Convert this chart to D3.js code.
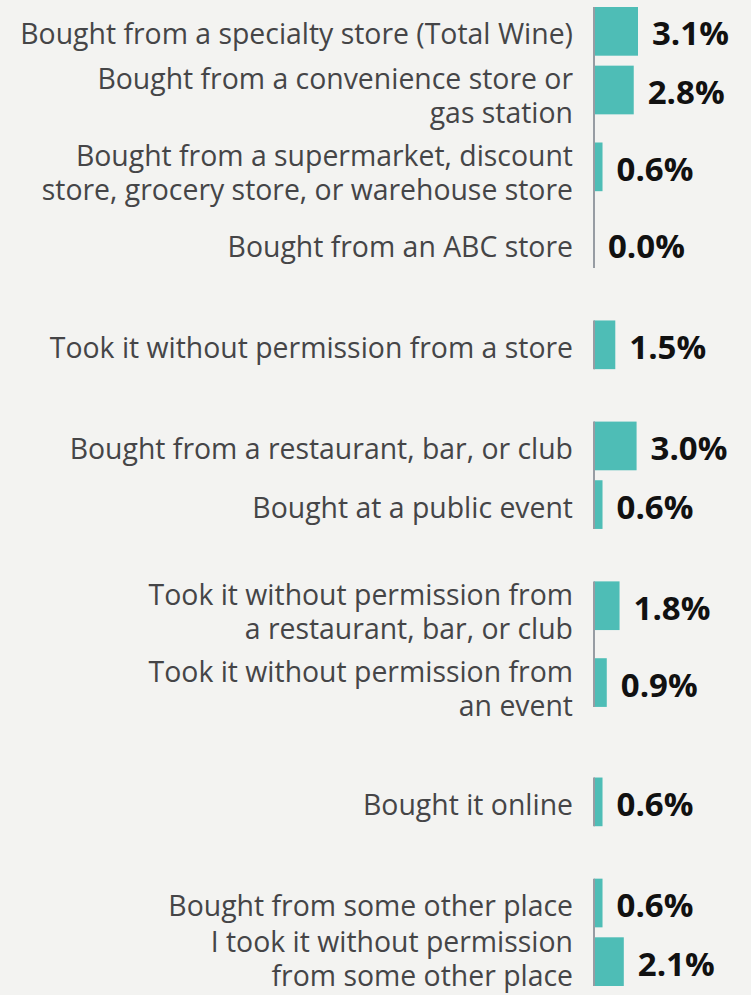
<!DOCTYPE html>
<html><head><meta charset="utf-8">
<script src="https://cdn.jsdelivr.net/npm/d3@7"></script>
<style>html,body{margin:0;padding:0;background:#f3f3f1;} svg{display:block}</style>
</head><body>
<svg id="chart" width="751" height="995"></svg>
<script>
const categories = [
  "Bought from a specialty store (Total Wine)",
  "Bought from a convenience store or\ngas station",
  "Bought from a supermarket, discount\nstore, grocery store, or warehouse store",
  "Bought from an ABC store",
  "Took it without permission from a store",
  "Bought from a restaurant, bar, or club",
  "Bought at a public event",
  "Took it without permission from\na restaurant, bar, or club",
  "Took it without permission from\nan event",
  "Bought it online",
  "Bought from some other place",
  "I took it without permission\nfrom some other place"
];
const groups = [0, 0, 0, 0, 1, 2, 2, 3, 3, 4, 5, 5];
const values = [3.1, 2.8, 0.6, 0.0, 1.5, 3.0, 0.6, 1.8, 0.9, 0.6, 0.6, 2.1];

const svg = d3.select("#chart");
const W = 751, H = 995;
svg.append("rect").attr("width", W).attr("height", H).attr("fill", "#f3f3f1");

// layout units: one-line row pitch = 1, two-line row pitch larger, gap between groups
const LINE2 = 1.31, GAP = 0.724, BAR = 0.83;
const rows = [];
let acc = 0;
categories.forEach((c, i) => {
  if (i > 0 && groups[i] !== groups[i - 1]) acc += GAP;
  const lines = c.split("\n");
  rows.push({ label: lines, value: values[i], group: groups[i], u: acc });
  acc += lines.length > 1 ? LINE2 : 1;
});
const last = rows[rows.length - 1];
const y = d3.scaleLinear().domain([0, last.u + BAR]).range([7, 986]);
const x = d3.scaleLinear().domain([0, 3.1]).range([594, 638]);
const barH = y(BAR) - y(0);

// bars
svg.append("g").selectAll("rect").data(rows).join("rect")
  .attr("x", x(0))
  .attr("y", d => y(d.u))
  .attr("width", d => x(d.value) - x(0))
  .attr("height", barH)
  .attr("fill", "#4ebdb6");

// axis line segments per group
const grp = d3.groups(rows, d => d.group);
svg.append("g").selectAll("line").data(grp).join("line")
  .attr("x1", x(0)).attr("x2", x(0))
  .attr("y1", d => y(d3.min(d[1], r => r.u)))
  .attr("y2", d => y(d3.max(d[1], r => r.u) + BAR))
  .attr("stroke", "#979ca3").attr("stroke-width", 2);

// category labels
const LH = 34;
const lab = svg.append("g")
  .attr("font-family", "'Open Sans', 'Noto Sans', sans-serif")
  .attr("font-size", 28.4).attr("fill", "#454547").attr("text-anchor", "end");
rows.forEach(d => {
  const cy = y(d.u + BAR / 2);
  const n = d.label.length;
  const off = n > 1 ? 16 : 13;
  const base = Math.min(cy + off - (n - 1) * LH / 2, 986 - (n - 1) * LH);
  const t = lab.append("text").attr("x", 573);
  d.label.forEach((line, k) => {
    t.append("tspan").attr("x", 573)
      .attr("y", base + k * LH)
      .text(line);
  });
});

// value labels
svg.append("g")
  .attr("font-family", "'Open Sans', 'Noto Sans', sans-serif")
  .attr("font-size", 33).attr("font-weight", "bold").attr("fill", "#111")
  .selectAll("text").data(rows).join("text")
  .attr("x", d => x(d.value) + 14)
  .attr("y", d => y(d.u + BAR / 2) + 14)
  .text(d => d.value.toFixed(1) + "%");
</script>
</body></html>
